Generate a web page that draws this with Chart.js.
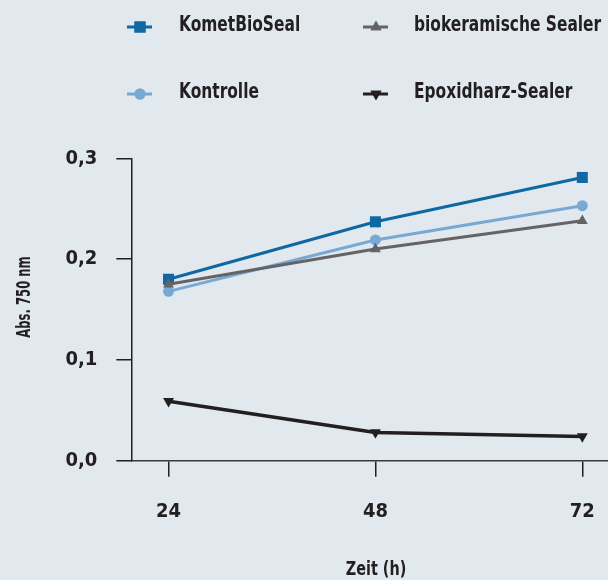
<!DOCTYPE html>
<html>
<head>
<meta charset="utf-8">
<script src="https://cdn.jsdelivr.net/npm/chart.js@4/dist/chart.umd.min.js"></script>
<style>
  html, body { margin: 0; padding: 0; background: #e1e8ee; }
  #wrap { width: 608px; height: 580px; }
</style>
</head>
<body>
<div id="wrap"><canvas id="c" width="608" height="580"></canvas></div>
<script>
// ---- data ----
const hours = [24, 48, 72];
const seriesNames = ['KometBioSeal', 'Kontrolle', 'biokeramische Sealer', 'Epoxidharz-Sealer'];
const kometBioSeal = [0.180, 0.237, 0.281];
const kontrolle = [0.168, 0.219, 0.253];
const biokeramisch = [0.175, 0.210, 0.238];
const epoxidharz = [0.059, 0.028, 0.024];
const yTicks = [0, 0.1, 0.2, 0.3];
const xTitle = 'Zeit (h)';
const yTitle = 'Abs. 750 nm';

const FONT = "'Liberation Sans Narrow', 'DejaVu Sans Condensed', 'Roboto', sans-serif";
const TEXT = '#231f20';

function pts(vals) { return vals.map((v, i) => ({ x: hours[i], y: v })); }

const styles = [
  { color: '#0f67a3', pointStyle: 'rect', radius: 7.8, rotation: 0, width: 3, order: 1 },
  { color: '#78a9d5', pointStyle: 'circle', radius: 5.5, rotation: 0, width: 3, order: 2 },
  { color: '#646466', pointStyle: 'triangle', radius: 6.3, rotation: 0, width: 3, order: 0 },
  { color: '#231f20', pointStyle: 'triangle', radius: 6.3, rotation: 180, width: 3.5, order: 3 }
];
const values = [kometBioSeal, kontrolle, biokeramisch, epoxidharz];

const datasets = values.map((v, i) => ({
  label: seriesNames[i],
  data: pts(v),
  borderColor: styles[i].color,
  backgroundColor: styles[i].color,
  borderWidth: styles[i].width,
  pointStyle: styles[i].pointStyle,
  pointRadius: styles[i].radius,
  pointRotation: styles[i].rotation,
  pointBorderWidth: 0,
  pointHoverRadius: styles[i].radius,
  order: styles[i].order,
  clip: false,
  tension: 0
}));

// legend layout
const legendPos = [
  { lx: 127, ly: 27, tx: 179, ty: 24 },   // KometBioSeal
  { lx: 127, ly: 94, tx: 179, ty: 91 },   // Kontrolle
  { lx: 363, ly: 27, tx: 414, ty: 24 },   // biokeramische
  { lx: 363, ly: 94, tx: 414, ty: 91 }    // Epoxidharz
];

function narrowText(ctx, text, x, y, size, sx, rot) {
  ctx.save();
  ctx.translate(x, y);
  if (rot) ctx.rotate(rot);
  ctx.scale(sx, 1);
  ctx.font = "bold " + size + "px " + FONT;
  ctx.fillText(text, 0, 0);
  ctx.restore();
}

const customDraw = {
  id: 'customDraw',
  afterDraw(chart) {
    const ctx = chart.ctx;
    ctx.save();
    chart.data.datasets.forEach((ds, i) => {
      const p = legendPos[i];
      const s = styles[i];
      ctx.strokeStyle = s.color;
      ctx.lineWidth = 3;
      ctx.beginPath();
      ctx.moveTo(p.lx, p.ly);
      ctx.lineTo(p.lx + 25, p.ly);
      ctx.stroke();
      ctx.fillStyle = s.color;
      Chart.helpers.drawPoint(ctx, { pointStyle: s.pointStyle, radius: s.radius, rotation: s.rotation, borderWidth: 0 }, p.lx + 13, p.ly);
      ctx.fill();
      ctx.fillStyle = TEXT;
      ctx.textBaseline = 'middle';
      ctx.textAlign = 'left';
      narrowText(ctx, ds.label, p.tx, p.ty + 1, 22, 0.78, 0);
    });
    ctx.fillStyle = TEXT;
    ctx.textAlign = 'center';
    ctx.textBaseline = 'middle';
    narrowText(ctx, xTitle, 376, 570, 20, 0.8, 0);
    narrowText(ctx, yTitle, 25, 297, 19, 0.68, -Math.PI / 2);
    ctx.restore();
  }
};

new Chart(document.getElementById('c'), {
  type: 'line',
  data: { datasets },
  options: {
    responsive: false,
    animation: false,
    events: [],
    layout: { autoPadding: false, padding: { top: 158.3, right: 0, bottom: 0, left: 0 } },
    plugins: { legend: { display: false }, tooltip: { enabled: false } },
    scales: {
      x: {
        type: 'linear',
        min: 19.68,
        max: 74.98,
        afterBuildTicks: (scale) => { scale.ticks = hours.map(h => ({ value: h })); },
        afterFit: (scale) => { scale.height = 119.3; scale.paddingLeft = 0; scale.paddingRight = 0; },
        grid: { drawOnChartArea: false, drawTicks: true, tickLength: 16, color: TEXT, lineWidth: 1.5 },
        border: { display: true, color: '#3a3a3c', width: 1.5 },
        ticks: { color: TEXT, font: { family: FONT, size: 20, weight: 'bold' }, padding: 23, maxRotation: 0, autoSkip: false }
      },
      y: {
        min: 0,
        max: 0.3,
        afterBuildTicks: (scale) => { scale.ticks = yTicks.map(v => ({ value: v })); },
        afterFit: (scale) => { scale.width = 131.3; scale.paddingTop = 0; scale.paddingBottom = 0; },
        grid: { drawOnChartArea: false, drawTicks: true, tickLength: 15, color: TEXT, lineWidth: 1.5 },
        border: { display: true, color: TEXT, width: 1.5 },
        ticks: {
          color: TEXT,
          font: { family: FONT, size: 20, weight: 'bold' },
          padding: 19,
          callback: (v) => v.toFixed(1).replace('.', ',')
        }
      }
    }
  },
  plugins: [customDraw]
});
</script>
</body>
</html>
